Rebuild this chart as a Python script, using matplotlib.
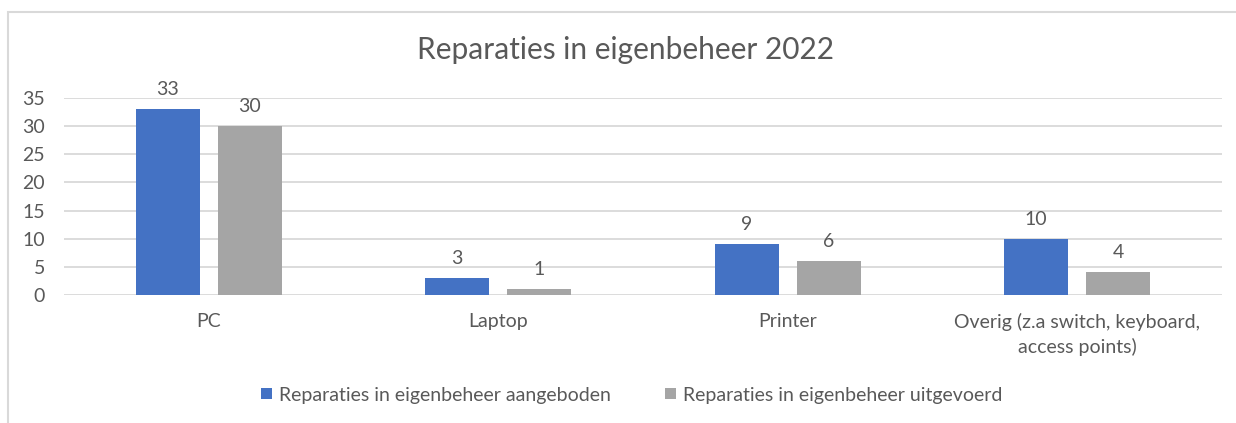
import matplotlib
matplotlib.use("Agg")
import matplotlib.pyplot as plt
from matplotlib.patches import Rectangle
import numpy as np

categories = ["PC", "Laptop", "Printer", "Overig (z.a switch, keyboard,\naccess points)"]
series_names = ["Reparaties in eigenbeheer aangeboden", "Reparaties in eigenbeheer uitgevoerd"]
aangeboden = [33, 3, 9, 10]
uitgevoerd = [30, 1, 6, 4]
yticks = [0, 5, 10, 15, 20, 25, 30, 35]

plt.rcParams['font.family'] = ['Lato', 'DejaVu Sans']
W, H = 1236, 423
fig = plt.figure(figsize=(W / 100, H / 100), dpi=100)
fig.patch.set_facecolor('white')

# chart border
fig.patches.append(Rectangle((8 / W, -0.1), 1.2, 1 - 12 / H + 0.1, transform=fig.transFigure,
                             fill=False, edgecolor='#d9d9d9', linewidth=1.5))

left, right = 64 / W, 1222 / W
bottom, top = 1 - 295 / H, 1 - 98 / H
ax = fig.add_axes([left, bottom, right - left, top - bottom])

x = np.arange(len(categories))
bw = 0.221
off = 0.1416
blue = '#4472c4'
gray = '#a5a5a5'
b1 = ax.bar(x - off, aangeboden, bw, color=blue, label=series_names[0], zorder=3)
b2 = ax.bar(x + off, uitgevoerd, bw, color=gray, label=series_names[1], zorder=3)

txt = '#595959'
for bars in (b1, b2):
    ax.bar_label(bars, padding=8, fontsize=14, color=txt)

ax.set_xlim(-0.5, len(categories) - 0.5)
ax.set_ylim(0, 35)
ax.set_yticks(yticks)
ax.yaxis.grid(True, color='#d9d9d9', linewidth=1.3, zorder=0)
ax.set_axisbelow(True)
for s in ax.spines.values():
    s.set_visible(False)
ax.tick_params(axis='both', length=0, labelsize=14, labelcolor=txt)
ax.tick_params(axis='y', pad=13.5)
ax.tick_params(axis='x', pad=13)
ax.set_xticks(x)
ax.set_xticklabels(categories, linespacing=1.45)
ax.set_clip_on(False)

fig.text(0.506, 1 - 50 / H, "Reparaties in eigenbeheer 2022", ha='center', va='center',
         fontsize=21.5, color=txt)

leg = fig.legend(handles=[b1, b2], labels=series_names, loc='center',
                 bbox_to_anchor=(0.511, 1 - 395 / H), ncol=2, frameon=False,
                 fontsize=14, labelcolor=txt, handlelength=0.55, handleheight=0.55,
                 handletextpad=0.35, columnspacing=2.8)

fig.savefig("out.png", dpi=100, facecolor='white')
